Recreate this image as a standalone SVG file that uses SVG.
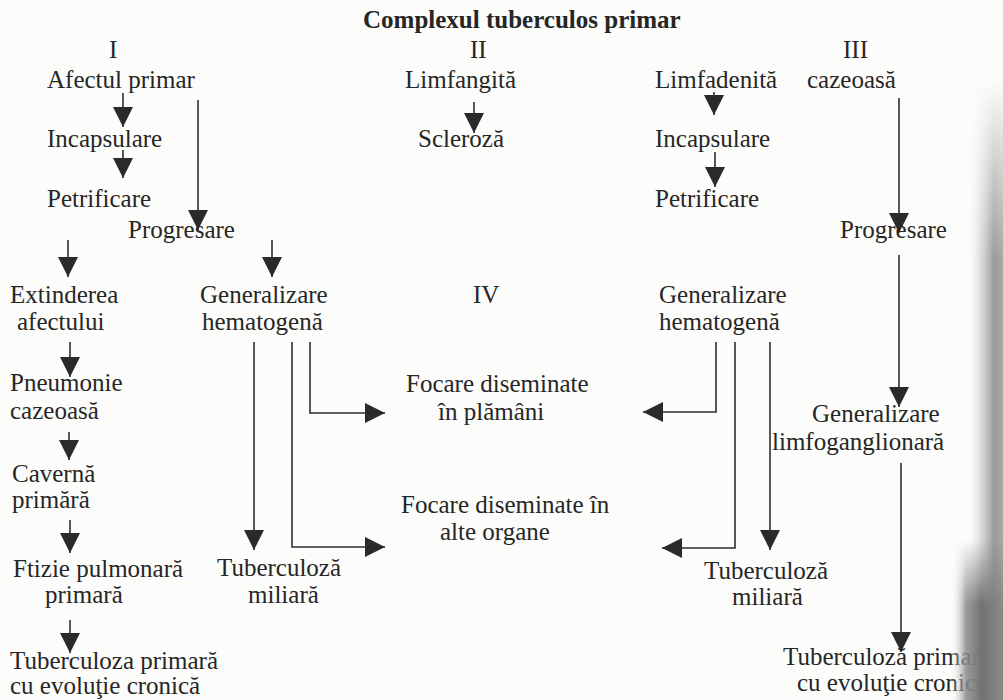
<svg xmlns="http://www.w3.org/2000/svg" width="1003" height="700" viewBox="0 0 1003 700">
<style>
text{font-family:"Liberation Serif","Times New Roman",serif;font-size:25px;fill:#262626}
.title{font-weight:bold;font-size:25px}
.c{stroke:#2e2e2e;stroke-width:1.6;fill:none}
</style>
<defs>
<marker id="ah" markerUnits="userSpaceOnUse" markerWidth="20" markerHeight="20" viewBox="0 0 20 20" refX="20" refY="10" orient="auto">
<path d="M0,0 L20,10 L0,20 Z" fill="#2a2a2a"/>
</marker>
<linearGradient id="band" x1="0" y1="0" x2="1" y2="0">
<stop offset="0" stop-color="#ffffff" stop-opacity="0"/>
<stop offset="0.4" stop-color="#c4c4c4" stop-opacity="0.6"/>
<stop offset="0.75" stop-color="#9a9a9a"/>
<stop offset="1" stop-color="#a8a8a8"/>
</linearGradient>
<linearGradient id="band2" x1="0" y1="0" x2="1" y2="0">
<stop offset="0" stop-color="#ffffff" stop-opacity="0"/>
<stop offset="0.3" stop-color="#8a8a8a" stop-opacity="0.85"/>
<stop offset="0.6" stop-color="#727272"/>
<stop offset="1" stop-color="#8a8a8a"/>
</linearGradient>
<linearGradient id="fade" x1="0" y1="0" x2="0" y2="1">
<stop offset="0" stop-color="#fcfcfa"/>
<stop offset="1" stop-color="#fcfcfa" stop-opacity="0"/>
</linearGradient>
<linearGradient id="fade2" x1="0" y1="0" x2="0" y2="1">
<stop offset="0" stop-color="#fff" stop-opacity="0"/>
<stop offset="0.4" stop-color="#fff" stop-opacity="1"/>
</linearGradient>
<mask id="m2"><rect x="950" y="540" width="53" height="160" fill="url(#fade2)"/></mask>
</defs>
<rect width="1003" height="700" fill="#fcfcfa"/>

<g id="connectors">
<line class="c" x1="123" y1="93" x2="123" y2="127" marker-end="url(#ah)"/>
<line class="c" x1="123" y1="150" x2="123" y2="178" marker-end="url(#ah)"/>
<line class="c" x1="198" y1="100" x2="198" y2="230" marker-end="url(#ah)"/>
<line class="c" x1="474" y1="102" x2="474" y2="133" marker-end="url(#ah)"/>
<line class="c" x1="714" y1="92" x2="714" y2="115" marker-end="url(#ah)"/>
<line class="c" x1="715" y1="152" x2="715" y2="187" marker-end="url(#ah)"/>
<line class="c" x1="899" y1="98" x2="899" y2="233" marker-end="url(#ah)"/>
<line class="c" x1="68" y1="240" x2="68" y2="277" marker-end="url(#ah)"/>
<line class="c" x1="272" y1="240" x2="272" y2="277" marker-end="url(#ah)"/>
<line class="c" x1="70" y1="342" x2="70" y2="377" marker-end="url(#ah)"/>
<line class="c" x1="69" y1="432" x2="69" y2="460" marker-end="url(#ah)"/>
<line class="c" x1="70" y1="520" x2="70" y2="553" marker-end="url(#ah)"/>
<line class="c" x1="70" y1="620" x2="70" y2="653" marker-end="url(#ah)"/>
<line class="c" x1="254" y1="342" x2="254" y2="550" marker-end="url(#ah)"/>
<polyline class="c" points="292,342 292,547 385,547" marker-end="url(#ah)"/>
<polyline class="c" points="310,342 310,413 385,413" marker-end="url(#ah)"/>
<polyline class="c" points="716,342 716,412 643,412" marker-end="url(#ah)"/>
<polyline class="c" points="735,342 735,548 662,548" marker-end="url(#ah)"/>
<line class="c" x1="770" y1="342" x2="770" y2="550" marker-end="url(#ah)"/>
<line class="c" x1="899" y1="255" x2="899" y2="407" marker-end="url(#ah)"/>
<line class="c" x1="901" y1="463" x2="901" y2="652" marker-end="url(#ah)"/>
</g>

<g id="title"><text class="title" x="363" y="28">Complexul tuberculos primar</text></g>
<g id="h1"><text x="109" y="58">I</text></g>
<g id="h2"><text x="470" y="58">II</text></g>
<g id="h3"><text x="843" y="58">III</text></g>
<g id="h4"><text x="473" y="303">IV</text></g>

<g id="afectul"><text x="47" y="88">Afectul primar</text></g>
<g id="incaps1"><text x="47" y="147">Incapsulare</text></g>
<g id="petrif1"><text x="47" y="207">Petrificare</text></g>
<g id="progres1"><text x="128" y="238">Progresare</text></g>

<g id="limfangita"><text x="405" y="88">Limfangită</text></g>
<g id="scleroza"><text x="418" y="147">Scleroză</text></g>

<g id="limfadenita"><text x="655" y="88">Limfadenită</text></g>
<g id="cazeoasa3"><text x="807" y="88">cazeoasă</text></g>
<g id="incaps2"><text x="655" y="147">Incapsulare</text></g>
<g id="petrif2"><text x="655" y="207">Petrificare</text></g>
<g id="progres2"><text x="840" y="238">Progresare</text></g>

<g id="extinderea"><text x="10" y="303">Extinderea</text><text x="17" y="330">afectului</text></g>
<g id="genhem1"><text x="200" y="303">Generalizare</text><text x="202" y="330">hematogenă</text></g>
<g id="genhem2"><text x="659" y="303">Generalizare</text><text x="659" y="330">hematogenă</text></g>

<g id="pneumonie"><text x="10" y="391">Pneumonie</text><text x="10" y="419">cazeoasă</text></g>
<g id="caverna"><text x="12" y="482">Cavernă</text><text x="12" y="508">primără</text></g>
<g id="ftizie"><text x="13" y="577">Ftizie pulmonară</text><text x="45" y="603">primară</text></g>
<g id="tbcron1"><text x="10" y="669">Tuberculoza primară</text><text x="10" y="694">cu evoluţie cronică</text></g>

<g id="focare1"><text x="406" y="392">Focare diseminate</text><text x="438" y="420">în plămâni</text></g>
<g id="focare2"><text x="401" y="513">Focare diseminate în</text><text x="440" y="540">alte organe</text></g>

<g id="miliara1"><text x="217" y="576">Tuberculoză</text><text x="248" y="603">miliară</text></g>
<g id="miliara2"><text x="704" y="579">Tuberculoză</text><text x="732" y="605">miliară</text></g>

<g id="genlimfo"><text x="812" y="422">Generalizare</text><text x="772" y="450">limfoganglionară</text></g>
<g id="tbcron2"><text x="783" y="665">Tuberculoză primară</text><text x="797" y="691">cu evoluţie cronică</text></g>

<rect x="966" y="80" width="37" height="620" fill="url(#band)"/>
<rect x="964" y="80" width="39" height="180" fill="url(#fade)"/>
<rect x="950" y="540" width="53" height="160" fill="url(#band2)" mask="url(#m2)"/>
</svg>
